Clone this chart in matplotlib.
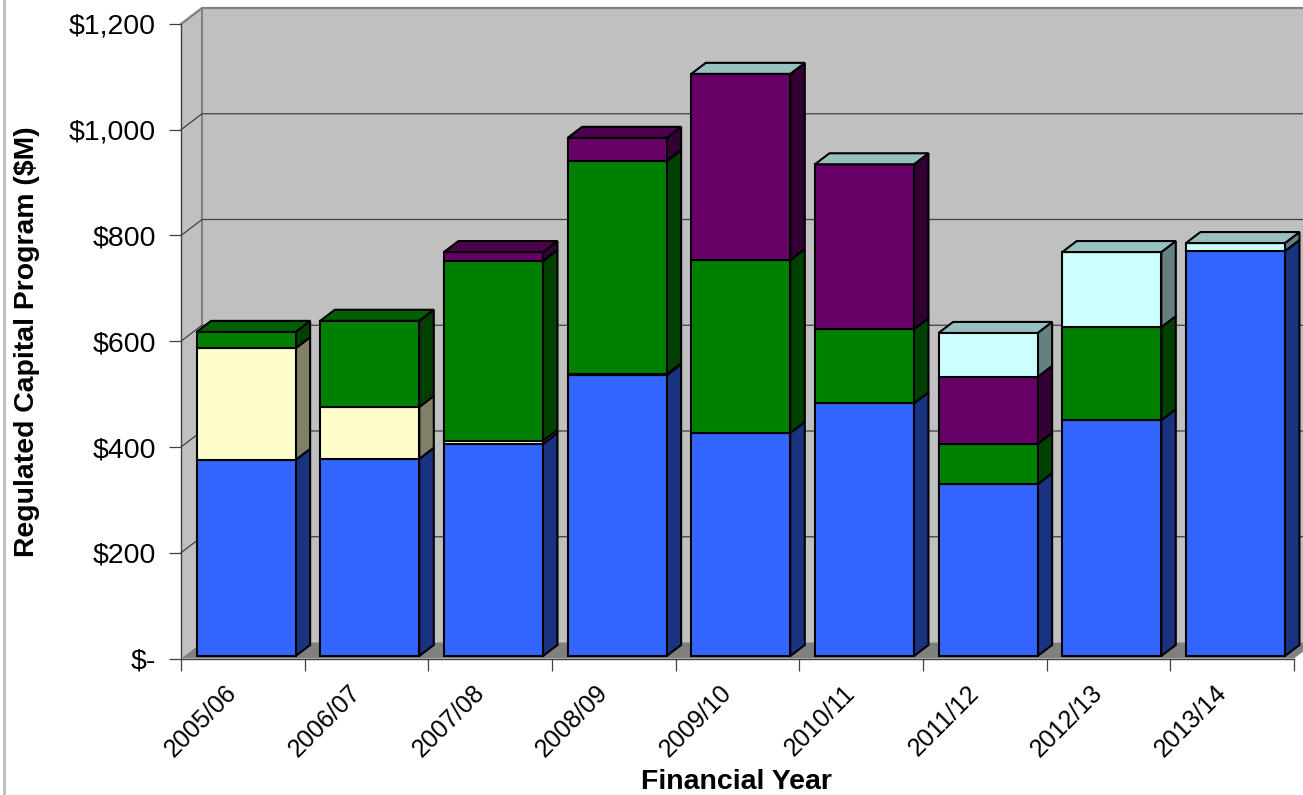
import matplotlib
matplotlib.use('Agg')
import matplotlib.pyplot as plt
from matplotlib.lines import Line2D
from matplotlib.patches import Polygon
from matplotlib.transforms import ScaledTranslation
import numpy as np

plt.rcParams['font.family'] = ['Liberation Sans', 'DejaVu Sans']

years = ['2005/06', '2006/07', '2007/08', '2008/09', '2009/10',
         '2010/11', '2011/12', '2012/13', '2013/14']
nan = np.nan

# stacked values in $M, nan = series has no value that year
blue = [371, 373, 401, 531, 422, 478, 325, 446, 766]
yellow = [211, 98, 6, 2, nan, nan, nan, nan, nan]
green = [31, 163, 340, 403, 327, 140, 76, 176, nan]
purple = [nan, nan, 17, 44, 352, 312, 127, nan, nan]
cyan = [nan, nan, nan, nan, 0, 0, 83, 142, 15]

series = [blue, yellow, green, purple, cyan]
front_cols = ['#3366FF', '#FFFFCC', '#008000', '#660066', '#CCFFFF']
side_cols = ['#1A3380', '#808066', '#004000', '#330033', '#668080']
top_cols = ['#264DC0', '#C0C099', '#006000', '#4D004D', '#99C0C0']

yticks = [0, 200, 400, 600, 800, 1000, 1200]
ylabels = ['$-', '$200', '$400', '$600', '$800', '$1,000', '$1,200']

W, H = 1303, 795
fig = plt.figure(figsize=(W / 100, H / 100), dpi=100)
ax = fig.add_axes([181 / W, (H - 658.5) / H, 1113 / W, 634.5 / H])
ax.set_xlim(0, len(years))
ax.set_ylim(0, 1200)
ax.patch.set_visible(False)

# pixels to data units, for the fake 3D depth
px_x = len(years) / 1113
px_y = 1200 / 634.5
wall_dx, wall_dy = 21 * px_x, 16 * px_y
bar_dx, bar_dy = 14.5 * px_x, 11 * px_y
off_x, off_y = 3.3 * px_x, 2.5 * px_y
bar_w = 99 * px_x


def poly(pts, face, edge='none', lw=0, z=1):
    ax.add_patch(Polygon(pts, closed=True, facecolor=face, edgecolor=edge,
                         linewidth=lw, clip_on=False, zorder=z,
                         joinstyle='miter'))


n = len(years)
ymax = yticks[-1]
# back wall, left wall, floor
poly([(wall_dx, wall_dy), (n + wall_dx, wall_dy),
      (n + wall_dx, ymax + wall_dy), (wall_dx, ymax + wall_dy)], '#C0C0C0')
poly([(0, 0), (wall_dx, wall_dy), (wall_dx, ymax + wall_dy), (0, ymax)], '#C0C0C0')
poly([(0, 0), (n, 0), (n + wall_dx, wall_dy), (wall_dx, wall_dy)], '#808080', z=1.2)

ax.plot([0, wall_dx, n + wall_dx], [ymax, ymax + wall_dy, ymax + wall_dy],
        color='#808080', lw=1.6, clip_on=False, zorder=1.5)
ax.plot([wall_dx, wall_dx], [wall_dy, ymax + wall_dy], color='#808080', lw=1.4,
        clip_on=False, zorder=1.5)
for v in yticks[1:-1]:
    ax.plot([0, wall_dx, n + wall_dx], [v, v + wall_dy, v + wall_dy],
            color='#404040', lw=0.9, clip_on=False, zorder=1.5)

z = 3
for i in range(n):
    x0 = i + 0.5 - bar_w / 2 + off_x
    x1 = x0 + bar_w
    base = off_y
    last = None
    for s, vals in enumerate(series):
        v = vals[i]
        if np.isnan(v):
            continue
        top = base + v
        poly([(x1, base), (x1 + bar_dx, base + bar_dy),
              (x1 + bar_dx, top + bar_dy), (x1, top)],
             side_cols[s], 'black', 1.5, z)
        poly([(x0, base), (x1, base), (x1, top), (x0, top)],
             front_cols[s], 'black', 1.5, z + 0.1)
        z += 0.2
        base = top
        last = s
    poly([(x0, base), (x1, base), (x1 + bar_dx, base + bar_dy),
          (x0 + bar_dx, base + bar_dy)], top_cols[last], 'black', 1.5, z)
    z += 0.2

for side in ['top', 'right']:
    ax.spines[side].set_visible(False)
for side in ['left', 'bottom']:
    ax.spines[side].set_color('#404040')
    ax.spines[side].set_linewidth(1.0)

ax.set_yticks(yticks)
ax.set_yticklabels(ylabels, fontsize=20.5)
ax.tick_params(axis='y', length=8.6, width=0.9, color='#404040', pad=9.5)

ax.set_xticks(range(n + 1))
ax.set_xticklabels([])
ax.set_xticks(np.arange(n) + 0.5, minor=True)
ax.set_xticklabels(years, minor=True, fontsize=18, rotation=45, ha='right',
                   rotation_mode='anchor')
ax.tick_params(axis='x', which='major', length=8.6, width=0.9, color='#404040')
ax.tick_params(axis='x', which='minor', length=0, pad=16)
# the labels sit left of the category centre
shift = ScaledTranslation(-18 / 100, 0, fig.dpi_scale_trans)
for lab in ax.get_xticklabels(minor=True):
    lab.set_transform(lab.get_transform() + shift)

fig.text(736.5 / W, 1 - 782 / H, 'Financial Year', fontsize=20.5, fontweight='bold',
         ha='center', va='center')
fig.text(27 / W, 1 - 342 / H, 'Regulated Capital Program ($M)', fontsize=20.4,
         fontweight='bold', rotation=90, ha='center', va='center')

# grey frame edge on the left of the slide
fig.add_artist(Line2D([3.5 / W, 3.5 / W], [0, 1], color='#C0C0C0', lw=2.2))

fig.savefig('out.png', dpi=100)
